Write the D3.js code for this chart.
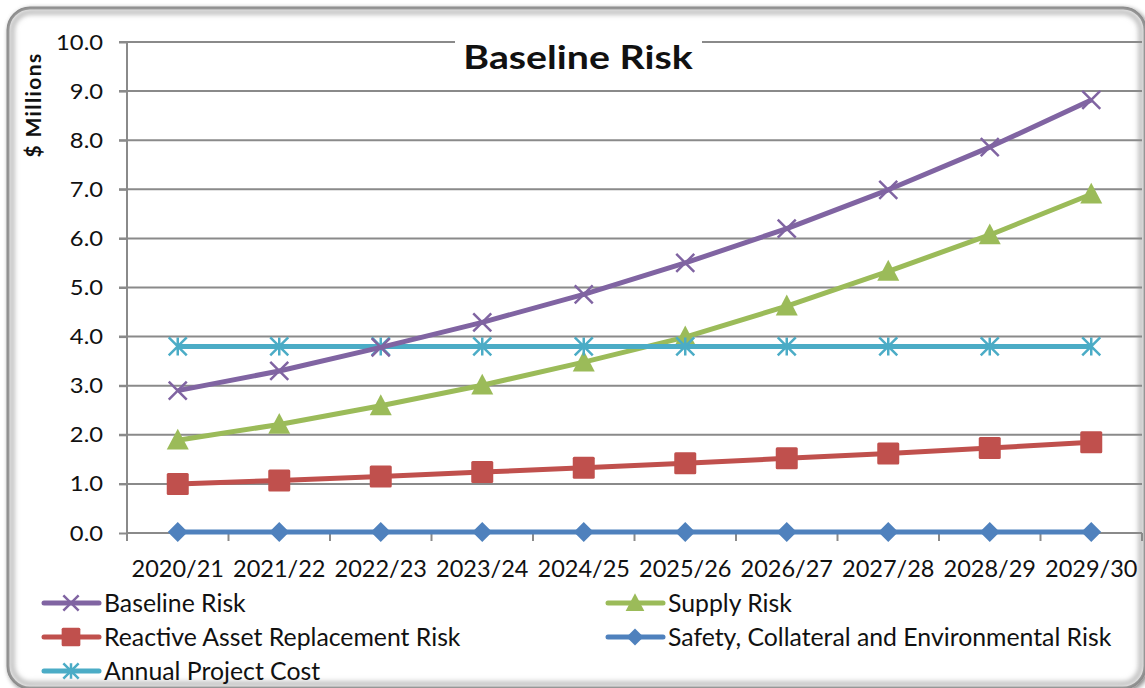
<!DOCTYPE html>
<html>
<head>
<meta charset="utf-8">
<script src="https://cdn.jsdelivr.net/npm/d3@7"></script>
<style>
  html, body { margin: 0; padding: 0; background: #fff; }
  svg { display: block; }
  text { font-family: Lato, "Open Sans", sans-serif; fill: #111; }
</style>
</head>
<body>
<svg id="chart" width="1145" height="688"></svg>
<script>
// Fiscal years on the category axis
const years = ["2020/21","2021/22","2022/23","2023/24","2024/25","2025/26","2026/27","2027/28","2028/29","2029/30"];

// $ Millions per year
const baselineRisk = [2.90, 3.30, 3.78, 4.29, 4.86, 5.50, 6.20, 6.99, 7.86, 8.82];
const supplyRisk   = [1.89, 2.21, 2.59, 3.01, 3.48, 3.99, 4.62, 5.33, 6.07, 6.90];
const reactiveRisk = [1.00, 1.07, 1.15, 1.24, 1.33, 1.42, 1.52, 1.62, 1.73, 1.85];
const safetyRisk   = [0.02, 0.02, 0.02, 0.02, 0.02, 0.02, 0.02, 0.02, 0.02, 0.02];
const projectCost  = [3.80, 3.80, 3.80, 3.80, 3.80, 3.80, 3.80, 3.80, 3.80, 3.80];

const yTicks = [0,1,2,3,4,5,6,7,8,9,10];

const series = [
  { name: "Safety, Collateral and Environmental Risk", values: safetyRisk, color: "#4F81BD", marker: "diamond" },
  { name: "Reactive Asset Replacement Risk", values: reactiveRisk, color: "#C0504D", marker: "square" },
  { name: "Supply Risk", values: supplyRisk, color: "#9BBB59", marker: "triangle" },
  { name: "Annual Project Cost", values: projectCost, color: "#4BACC6", marker: "star" },
  { name: "Baseline Risk", values: baselineRisk, color: "#8064A2", marker: "x" }
];

const legendOrder = [
  { s: "Baseline Risk", col: 0, row: 0 },
  { s: "Supply Risk", col: 1, row: 0 },
  { s: "Reactive Asset Replacement Risk", col: 0, row: 1 },
  { s: "Safety, Collateral and Environmental Risk", col: 1, row: 1 },
  { s: "Annual Project Cost", col: 0, row: 2 }
];

// Horizontal stretch for text set in a slightly wider face
function stretchText(sel, k) {
  sel.each(function () {
    const t = d3.select(this);
    const x0 = +t.attr("x") || 0, y0 = +t.attr("y") || 0;
    t.attr("x", 0).attr("y", 0).attr("transform", `translate(${x0},${y0}) scale(${k},1)`);
  });
}

const svg = d3.select("#chart");
const defs = svg.append("defs");

// Frame: soft shadowed rounded border
const shadow = defs.append("filter").attr("id", "frameShadow")
  .attr("x", "-5%").attr("y", "-5%").attr("width", "110%").attr("height", "110%");
shadow.append("feGaussianBlur").attr("in", "SourceAlpha").attr("stdDeviation", 2.5).attr("result", "b");
shadow.append("feOffset").attr("in", "b").attr("dx", 2).attr("dy", 2).attr("result", "o");
shadow.append("feComponentTransfer").attr("in", "o").attr("result", "oa")
  .append("feFuncA").attr("type", "linear").attr("slope", 0.5);
const fm = shadow.append("feMerge");
fm.append("feMergeNode").attr("in", "oa");
fm.append("feMergeNode").attr("in", "SourceGraphic");

const innerBlur = defs.append("filter").attr("id", "innerBlur");
innerBlur.append("feGaussianBlur").attr("stdDeviation", 2.5);

svg.append("rect")
  .attr("x", 8).attr("y", 8).attr("width", 1137).attr("height", 680)
  .attr("rx", 22).attr("ry", 22)
  .attr("fill", "#fff")
  .attr("stroke", "#858585").attr("stroke-width", 3)
  .attr("filter", "url(#frameShadow)");
svg.append("rect")
  .attr("x", 12).attr("y", 12).attr("width", 1129).attr("height", 672)
  .attr("rx", 19).attr("ry", 19)
  .attr("fill", "none")
  .attr("stroke", "#b8b8b8").attr("stroke-width", 5)
  .attr("filter", "url(#innerBlur)");

// Plot area
const plot = { left: 127, right: 1142, top: 42, bottom: 533 };

const x = d3.scaleBand().domain(years).range([plot.left, plot.right]);
const y = d3.scaleLinear().domain([0, 10]).range([plot.bottom, plot.top]);

// Horizontal gridlines
svg.append("g")
  .selectAll("line")
  .data(yTicks.filter(d => d > 0))
  .join("line")
  .attr("x1", plot.left - 8).attr("x2", plot.right)
  .attr("y1", d => y(d)).attr("y2", d => y(d))
  .attr("stroke", "#8a8a8a").attr("stroke-width", 2);

// Y axis
const yAxis = svg.append("g")
  .attr("transform", `translate(${plot.left},0)`)
  .call(d3.axisLeft(y).tickValues(yTicks).tickFormat(d3.format(".1f")).tickSize(8).tickPadding(0));
yAxis.select(".domain").attr("stroke", "#8a8a8a").attr("stroke-width", 2).attr("d", `M0,${plot.top}V${plot.bottom + 8}`);
yAxis.selectAll(".tick line").attr("stroke", "#8a8a8a").attr("stroke-width", 2);
yAxis.selectAll(".tick text")
  .attr("x", -24)
  .attr("font-size", 22).attr("font-family", "Lato, sans-serif").attr("fill", "#111");
stretchText(yAxis.selectAll(".tick text"), 1.08);

// X axis
const xAxis = svg.append("g")
  .attr("transform", `translate(0,${plot.bottom})`)
  .call(d3.axisBottom(x).tickSize(0).tickPadding(0));
xAxis.select(".domain").remove();
xAxis.append("line")
  .attr("x1", plot.left).attr("x2", plot.right)
  .attr("stroke", "#8a8a8a").attr("stroke-width", 2);
xAxis.selectAll(".bound")
  .data(d3.range(years.length + 1))
  .join("line")
  .attr("class", "bound")
  .attr("x1", i => plot.left + i * x.bandwidth()).attr("x2", i => plot.left + i * x.bandwidth())
  .attr("y1", 0).attr("y2", 8)
  .attr("stroke", "#8a8a8a").attr("stroke-width", 2);
xAxis.selectAll(".tick text")
  .attr("y", 44).attr("dy", null)
  .attr("font-size", 23.5).attr("font-family", "Lato, sans-serif").attr("fill", "#111");

// Y axis title
svg.append("text")
  .attr("transform", "translate(41,105) rotate(-90)")
  .attr("text-anchor", "middle")
  .attr("font-size", 21).attr("font-weight", "bold")
  .attr("letter-spacing", 1.4)
  .text("$ Millions");

// Marker shapes
function drawMarker(g, type, color, cx, cy, scale) {
  const k = scale || 1;
  if (type === "x") {
    const r = 9 * k;
    g.append("path")
      .attr("d", `M${cx - r},${cy - r}L${cx + r},${cy + r}M${cx - r},${cy + r}L${cx + r},${cy - r}`)
      .attr("stroke", color).attr("stroke-width", 2.5).attr("fill", "none");
  } else if (type === "star") {
    const r = 9 * k;
    g.append("path")
      .attr("d", `M${cx - r},${cy - r}L${cx + r},${cy + r}M${cx - r},${cy + r}L${cx + r},${cy - r}M${cx},${cy - r}L${cx},${cy + r}`)
      .attr("stroke", color).attr("stroke-width", 2.5).attr("fill", "none");
  } else if (type === "diamond") {
    const r = 10 * k;
    g.append("path")
      .attr("d", `M${cx},${cy - r}L${cx + r},${cy}L${cx},${cy + r}L${cx - r},${cy}Z`)
      .attr("fill", color);
  } else if (type === "square") {
    const r = 11 * k;
    g.append("rect")
      .attr("x", cx - r).attr("y", cy - r).attr("width", 2 * r).attr("height", 2 * r)
      .attr("rx", 1.5)
      .attr("fill", color);
  } else if (type === "triangle") {
    const r = 11 * k;
    g.append("path")
      .attr("d", `M${cx},${cy - r * 1.05}L${cx + r},${cy + r * 0.85}L${cx - r},${cy + r * 0.85}Z`)
      .attr("fill", color);
  }
}

const line = d3.line()
  .x((d, i) => x(years[i]) + x.bandwidth() / 2)
  .y(d => y(d));

const seriesG = svg.append("g");
series.forEach(s => {
  const g = seriesG.append("g");
  g.append("path")
    .datum(s.values)
    .attr("d", line)
    .attr("fill", "none")
    .attr("stroke", s.color)
    .attr("stroke-width", 5)
    .attr("stroke-linejoin", "round");
  s.values.forEach((v, i) => {
    drawMarker(g, s.marker, s.color, x(years[i]) + x.bandwidth() / 2, y(v));
  });
});

// Title with white backing over the top gridline
const titleG = svg.append("g");
titleG.append("rect")
  .attr("x", 455).attr("y", 32).attr("width", 247).attr("height", 46)
  .attr("fill", "#fff");
const title = titleG.append("text")
  .attr("x", 578).attr("y", 69)
  .attr("text-anchor", "middle")
  .attr("font-size", 33).attr("font-weight", "bold")
  .text("Baseline Risk");
stretchText(title, 1.19);

// Legend
const legend = svg.append("g");
const colX = [44, 608];
const rowY = [603, 637, 671];
legendOrder.forEach(item => {
  const s = series.find(d => d.name === item.s);
  const lx = colX[item.col], ly = rowY[item.row];
  const g = legend.append("g");
  g.append("line")
    .attr("x1", lx).attr("x2", lx + 55)
    .attr("y1", ly).attr("y2", ly)
    .attr("stroke", s.color).attr("stroke-width", 5).attr("stroke-linecap", "round");
  drawMarker(g, s.marker, s.color, lx + 27, ly, 0.85);
  g.append("text")
    .attr("x", lx + 60).attr("y", ly + 9)
    .attr("font-size", 24.8)
    .text(s.name);
});
</script>
</body>
</html>
